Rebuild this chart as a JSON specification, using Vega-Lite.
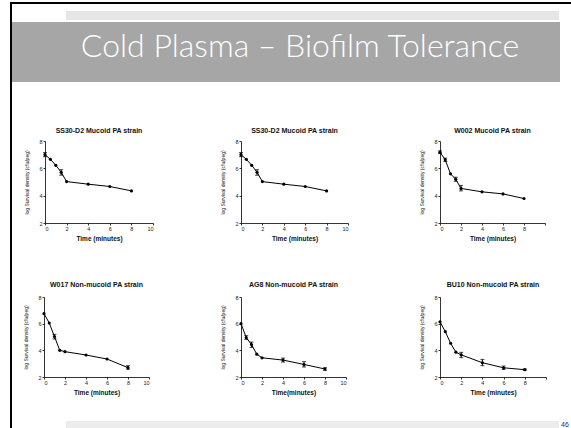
{
  "$schema": "https://vega.github.io/schema/vega-lite/v6.json",
  "background": "white",
  "padding": {"left": 10, "top": 2, "right": 0, "bottom": 0},
  "bounds": "flush",
  "spacing": 0,
  "config": {
    "view": {"stroke": null},
    "font": "Liberation Sans",
    "title": {"fontSize": 7, "fontWeight": "bold", "color": "#111", "anchor": "middle", "font": "Liberation Sans"},
    "axis": {
      "grid": false, "domainColor": "black", "tickColor": "black", "labelColor": "#222",
      "labelFontSize": 5.5, "tickSize": 2, "labelPadding": 1, "domainWidth": 0.8, "tickWidth": 0.8,
      "titleColor": "#111", "labelFont": "Liberation Sans", "titleFont": "Liberation Sans", "labelOverlap": false
    },
    "axisX": {"titleFontSize": 6.5, "titleFontWeight": "bold", "titlePadding": 4},
    "axisY": {"titleFontSize": 5, "titleFontWeight": "normal", "titlePadding": 9}
  },
  "datasets": {
    "d": [
      {"p": 1, "t": 0, "m": 7.0, "lo": 6.85, "hi": 7.15},
      {"p": 1, "t": 0.5, "m": 6.66},
      {"p": 1, "t": 1, "m": 6.22},
      {"p": 1, "t": 1.5, "m": 5.71, "lo": 5.5, "hi": 5.9},
      {"p": 1, "t": 2, "m": 5.03},
      {"p": 1, "t": 4, "m": 4.84},
      {"p": 1, "t": 6, "m": 4.67},
      {"p": 1, "t": 8, "m": 4.35},
      {"p": 2, "t": 0, "m": 7.0, "lo": 6.85, "hi": 7.15},
      {"p": 2, "t": 0.5, "m": 6.66},
      {"p": 2, "t": 1, "m": 6.22},
      {"p": 2, "t": 1.5, "m": 5.71, "lo": 5.5, "hi": 5.9},
      {"p": 2, "t": 2, "m": 5.03},
      {"p": 2, "t": 4, "m": 4.84},
      {"p": 2, "t": 6, "m": 4.67},
      {"p": 2, "t": 8, "m": 4.35},
      {"p": 3, "t": 0, "m": 7.18, "lo": 7.08, "hi": 7.28},
      {"p": 3, "t": 0.5, "m": 6.62, "lo": 6.5, "hi": 6.75},
      {"p": 3, "t": 1, "m": 5.6},
      {"p": 3, "t": 1.5, "m": 5.2, "lo": 5.05, "hi": 5.35},
      {"p": 3, "t": 2, "m": 4.53, "lo": 4.35, "hi": 4.75},
      {"p": 3, "t": 4, "m": 4.28},
      {"p": 3, "t": 6, "m": 4.13},
      {"p": 3, "t": 8, "m": 3.79},
      {"p": 4, "t": 0, "m": 6.75},
      {"p": 4, "t": 0.5, "m": 6.05},
      {"p": 4, "t": 1, "m": 5.03, "lo": 4.85, "hi": 5.2},
      {"p": 4, "t": 1.5, "m": 4.0},
      {"p": 4, "t": 2, "m": 3.9},
      {"p": 4, "t": 4, "m": 3.65},
      {"p": 4, "t": 6, "m": 3.35},
      {"p": 4, "t": 8, "m": 2.7, "lo": 2.58, "hi": 2.85},
      {"p": 5, "t": 0, "m": 6.0},
      {"p": 5, "t": 0.5, "m": 4.95, "lo": 4.82, "hi": 5.1},
      {"p": 5, "t": 1, "m": 4.43, "lo": 4.22, "hi": 4.62},
      {"p": 5, "t": 1.5, "m": 3.71},
      {"p": 5, "t": 2, "m": 3.44},
      {"p": 5, "t": 4, "m": 3.27, "lo": 3.12, "hi": 3.42},
      {"p": 5, "t": 6, "m": 2.94, "lo": 2.75, "hi": 3.15},
      {"p": 5, "t": 8, "m": 2.6, "lo": 2.5, "hi": 2.7},
      {"p": 6, "t": 0, "m": 6.14},
      {"p": 6, "t": 0.5, "m": 5.4},
      {"p": 6, "t": 1, "m": 4.53},
      {"p": 6, "t": 1.5, "m": 3.86},
      {"p": 6, "t": 2, "m": 3.66, "lo": 3.45, "hi": 3.85},
      {"p": 6, "t": 4, "m": 3.07, "lo": 2.85, "hi": 3.32},
      {"p": 6, "t": 6, "m": 2.69, "lo": 2.57, "hi": 2.82},
      {"p": 6, "t": 8, "m": 2.55, "lo": 2.5, "hi": 2.6}
    ]
  },
  "hconcat": [
    {"width": 2, "height": 426, "data": {"values": []}, "mark": "point", "view": {"fill": "black", "stroke": null}},
    {
      "vconcat": [
        {"width": 559, "height": 2, "data": {"values": []}, "mark": "point", "view": {"fill": "black", "stroke": null}},
        {"width": 1, "height": 7, "data": {"values": []}, "mark": "point"},
        {
          "hconcat": [
            {"width": 54, "height": 9, "data": {"values": []}, "mark": "point"},
            {"width": 493, "height": 9, "data": {"values": []}, "mark": "point", "view": {"fill": "#e6e6e6", "stroke": null}}
          ],
          "bounds": "flush", "spacing": 0
        },
        {"width": 1, "height": 2, "data": {"values": []}, "mark": "point"},
        {
          "width": 548, "height": 60,
          "view": {"fill": "#a6a6a6", "stroke": null},
          "data": {"values": [{"label": "Cold Plasma – Biofilm Tolerance"}]},
          "mark": {"type": "text", "font": "Lato", "fontWeight": 300, "fontSize": 32, "color": "white", "dx": 14, "dy": -5, "baseline": "middle"},
          "encoding": {"text": {"field": "label"}}
        },
        {"width": 1, "height": 45, "data": {"values": []}, "mark": "point"},
        {
          "hconcat": [
            {"width": 33, "height": 82, "data": {"values": []}, "mark": "point"},
            {
              "width": 108, "height": 82,
              "title": {"text": "SS30-D2 Mucoid PA  strain", "offset": 5},
              "data": {"name": "d"},
              "transform": [{"filter": "datum.p == 1"}],
              "encoding": {
                "x": {"field": "t", "type": "quantitative", "scale": {"domain": [0, 10]}, "axis": {"title": "Time (minutes)", "values": [0, 2, 4, 6, 8, 10]}},
                "y": {"field": "m", "type": "quantitative", "scale": {"domain": [2, 8]}, "axis": {"title": "log Survival density (cfu/peg)", "values": [2, 4, 6, 8]}}
              },
              "layer": [
                {"mark": {"type": "line", "color": "black", "strokeWidth": 1}},
                {"mark": {"type": "point", "filled": true, "color": "black", "size": 10, "opacity": 1}},
                {"transform": [{"filter": "isValid(datum.hi)"}], "mark": {"type": "errorbar", "ticks": {"size": 4}, "color": "black"}, "encoding": {"y": {"field": "lo", "type": "quantitative"}, "y2": {"field": "hi"}}}
              ]
            },
            {"width": 88, "height": 82, "data": {"values": []}, "mark": "point"},
            {
              "width": 107, "height": 82,
              "title": {"text": "SS30-D2 Mucoid PA  strain", "offset": 5},
              "data": {"name": "d"},
              "transform": [{"filter": "datum.p == 2"}],
              "encoding": {
                "x": {"field": "t", "type": "quantitative", "scale": {"domain": [0, 10]}, "axis": {"title": "Time (minutes)", "values": [0, 2, 4, 6, 8, 10]}},
                "y": {"field": "m", "type": "quantitative", "scale": {"domain": [2, 8]}, "axis": {"title": "log Survival density (cfu/peg)", "values": [2, 4, 6, 8]}}
              },
              "layer": [
                {"mark": {"type": "line", "color": "black", "strokeWidth": 1}},
                {"mark": {"type": "point", "filled": true, "color": "black", "size": 10, "opacity": 1}},
                {"transform": [{"filter": "isValid(datum.hi)"}], "mark": {"type": "errorbar", "ticks": {"size": 4}, "color": "black"}, "encoding": {"y": {"field": "lo", "type": "quantitative"}, "y2": {"field": "hi"}}}
              ]
            },
            {"width": 92, "height": 82, "data": {"values": []}, "mark": "point"},
            {
              "width": 105, "height": 82,
              "title": {"text": "W002 Mucoid PA strain", "offset": 5},
              "data": {"name": "d"},
              "transform": [{"filter": "datum.p == 3"}],
              "encoding": {
                "x": {"field": "t", "type": "quantitative", "scale": {"domain": [0, 10]}, "axis": {"title": "Time (minutes)", "values": [0, 2, 4, 6, 8, 10], "labelExpr": "datum.value == 10 ? '' : datum.label"}},
                "y": {"field": "m", "type": "quantitative", "scale": {"domain": [2, 8]}, "axis": {"title": "log Survival density (cfu/peg)", "values": [2, 4, 6, 8]}}
              },
              "layer": [
                {"mark": {"type": "line", "color": "black", "strokeWidth": 1}},
                {"mark": {"type": "point", "filled": true, "color": "black", "size": 10, "opacity": 1}},
                {"transform": [{"filter": "isValid(datum.hi)"}], "mark": {"type": "errorbar", "ticks": {"size": 4}, "color": "black"}, "encoding": {"y": {"field": "lo", "type": "quantitative"}, "y2": {"field": "hi"}}}
              ]
            }
          ],
          "bounds": "flush", "spacing": 0
        },
        {"width": 1, "height": 39, "data": {"values": []}, "mark": "point"},
        {
          "hconcat": [
            {"width": 32, "height": 80, "data": {"values": []}, "mark": "point"},
            {
              "width": 105, "height": 80,
              "title": {"text": "W017 Non-mucoid PA strain", "offset": 7},
              "data": {"name": "d"},
              "transform": [{"filter": "datum.p == 4"}],
              "encoding": {
                "x": {"field": "t", "type": "quantitative", "scale": {"domain": [0, 10]}, "axis": {"title": "Time (minutes)", "values": [0, 2, 4, 6, 8, 10]}},
                "y": {"field": "m", "type": "quantitative", "scale": {"domain": [2, 8]}, "axis": {"title": "log Survival density (cfu/peg)", "values": [2, 4, 6, 8]}}
              },
              "layer": [
                {"mark": {"type": "line", "color": "black", "strokeWidth": 1}},
                {"mark": {"type": "point", "filled": true, "color": "black", "size": 10, "opacity": 1}},
                {"transform": [{"filter": "isValid(datum.hi)"}], "mark": {"type": "errorbar", "ticks": {"size": 4}, "color": "black"}, "encoding": {"y": {"field": "lo", "type": "quantitative"}, "y2": {"field": "hi"}}}
              ]
            },
            {"width": 92, "height": 80, "data": {"values": []}, "mark": "point"},
            {
              "width": 105, "height": 80,
              "title": {"text": "AG8 Non-mucoid PA strain", "offset": 7},
              "data": {"name": "d"},
              "transform": [{"filter": "datum.p == 5"}],
              "encoding": {
                "x": {"field": "t", "type": "quantitative", "scale": {"domain": [0, 10]}, "axis": {"title": "Time(minutes)", "values": [0, 2, 4, 6, 8, 10]}},
                "y": {"field": "m", "type": "quantitative", "scale": {"domain": [2, 8]}, "axis": {"title": "log Survival density (cfu/peg)", "values": [2, 4, 6, 8]}}
              },
              "layer": [
                {"mark": {"type": "line", "color": "black", "strokeWidth": 1}},
                {"mark": {"type": "point", "filled": true, "color": "black", "size": 10, "opacity": 1}},
                {"transform": [{"filter": "isValid(datum.hi)"}], "mark": {"type": "errorbar", "ticks": {"size": 4}, "color": "black"}, "encoding": {"y": {"field": "lo", "type": "quantitative"}, "y2": {"field": "hi"}}}
              ]
            },
            {"width": 94, "height": 80, "data": {"values": []}, "mark": "point"},
            {
              "width": 106, "height": 80,
              "title": {"text": "BU10 Non-mucoid PA strain", "offset": 7},
              "data": {"name": "d"},
              "transform": [{"filter": "datum.p == 6"}],
              "encoding": {
                "x": {"field": "t", "type": "quantitative", "scale": {"domain": [0, 10]}, "axis": {"title": "Time (minutes)", "values": [0, 2, 4, 6, 8, 10], "labelExpr": "datum.value == 10 ? '' : datum.label"}},
                "y": {"field": "m", "type": "quantitative", "scale": {"domain": [2, 8]}, "axis": {"title": "log Survival density (cfu/peg)", "values": [2, 4, 6, 8]}}
              },
              "layer": [
                {"mark": {"type": "line", "color": "black", "strokeWidth": 1}},
                {"mark": {"type": "point", "filled": true, "color": "black", "size": 10, "opacity": 1}},
                {"transform": [{"filter": "isValid(datum.hi)"}], "mark": {"type": "errorbar", "ticks": {"size": 4}, "color": "black"}, "encoding": {"y": {"field": "lo", "type": "quantitative"}, "y2": {"field": "hi"}}}
              ]
            }
          ],
          "bounds": "flush", "spacing": 0
        },
        {"width": 1, "height": 24, "data": {"values": []}, "mark": "point"},
        {
          "hconcat": [
            {"width": 54, "height": 7, "data": {"values": []}, "mark": "point"},
            {"width": 493, "height": 7, "data": {"values": []}, "mark": "point", "view": {"fill": "#ececec", "stroke": null}},
            {
              "width": 12, "height": 7,
              "data": {"values": [{"n": "46"}]},
              "mark": {"type": "text", "fontSize": 7, "color": "#333", "font": "Liberation Sans", "baseline": "middle"},
              "encoding": {"text": {"field": "n"}}
            }
          ],
          "bounds": "flush", "spacing": 0
        }
      ],
      "spacing": 0
    }
  ]
}
